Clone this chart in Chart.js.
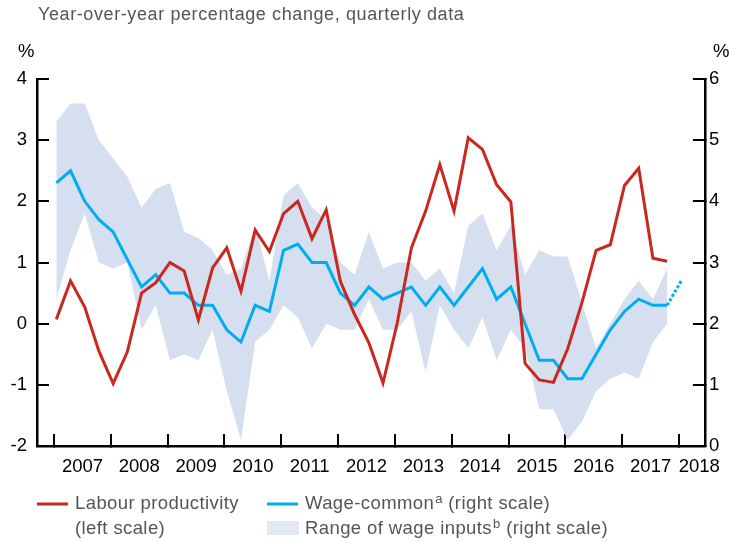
<!DOCTYPE html>
<html>
<head>
    <title>Labour productivity and wage-common</title>
    <script src="https://cdn.jsdelivr.net/npm/chart.js"></script>
    <style>
        body { margin: 0; background: #fff; }
        canvas { display: block; }
    </style>
</head>
<body>
    <canvas id="wage_chart" width="730" height="542"></canvas>
    <script>
        // quarterly observations, 2007Q1 - 2017Q4
        const quarters = [
            '2007Q1', '2007Q2', '2007Q3', '2007Q4',
            '2008Q1', '2008Q2', '2008Q3', '2008Q4',
            '2009Q1', '2009Q2', '2009Q3', '2009Q4',
            '2010Q1', '2010Q2', '2010Q3', '2010Q4',
            '2011Q1', '2011Q2', '2011Q3', '2011Q4',
            '2012Q1', '2012Q2', '2012Q3', '2012Q4',
            '2013Q1', '2013Q2', '2013Q3', '2013Q4',
            '2014Q1', '2014Q2', '2014Q3', '2014Q4',
            '2015Q1', '2015Q2', '2015Q3', '2015Q4',
            '2016Q1', '2016Q2', '2016Q3', '2016Q4',
            '2017Q1', '2017Q2', '2017Q3', '2017Q4'
        ];

        // left scale
        const labour_productivity = [
            0.07, 0.70, 0.27, -0.45,
            -0.98, -0.46, 0.50, 0.67,
            1.00, 0.86, 0.06, 0.91,
            1.24, 0.53, 1.53, 1.18,
            1.80, 2.00, 1.39, 1.86,
            0.69, 0.15, -0.31, -0.97,
            0.01, 1.24, 1.84, 2.60,
            1.84, 3.04, 2.85, 2.27,
            1.99, -0.65, -0.92, -0.96,
            -0.41, 0.34, 1.20, 1.29,
            2.26, 2.54, 1.07, 1.02
        ];

        // right scale
        const wage_common = [
            4.30, 4.50, 4.00, 3.70,
            3.50, 3.05, 2.60, 2.80,
            2.50, 2.50, 2.30, 2.30,
            1.90, 1.70, 2.30, 2.20,
            3.20, 3.30, 3.00, 3.00,
            2.50, 2.30, 2.60, 2.40,
            2.50, 2.60, 2.30, 2.60,
            2.30, 2.60, 2.90, 2.40,
            2.60, 2.00, 1.40, 1.40,
            1.10, 1.10, 1.50, 1.90,
            2.20, 2.40, 2.30, 2.30
        ];

        const projection_quarters = ['2017Q4', '2018Q1'];
        const wage_projection = [2.30, 2.70];

        const wage_range_high = [
            5.30, 5.60, 5.60, 5.00,
            4.70, 4.40, 3.90, 4.20,
            4.30, 3.50, 3.40, 3.20,
            2.80, 2.90, 3.60, 2.70,
            4.10, 4.30, 3.90, 3.70,
            3.00, 2.80, 3.50, 2.90,
            3.00, 3.00, 2.70, 2.90,
            2.50, 3.60, 3.80, 3.20,
            3.60, 2.80, 3.20, 3.10,
            3.10, 2.35, 1.60, 2.00,
            2.40, 2.70, 2.40, 2.90
        ];

        const wage_range_low = [
            2.40, 3.20, 3.80, 3.00,
            2.90, 3.00, 1.90, 2.30,
            1.40, 1.50, 1.40, 1.90,
            0.90, 0.10, 1.70, 1.90,
            2.30, 2.10, 1.60, 2.00,
            1.90, 1.90, 2.40, 1.90,
            1.90, 2.20, 1.20, 2.30,
            1.90, 1.60, 2.10, 1.40,
            1.90, 1.60, 0.60, 0.60,
            0.10, 0.40, 0.90, 1.10,
            1.20, 1.10, 1.70, 2.00
        ];

        const year_ticks = [2007, 2008, 2009, 2010, 2011, 2012, 2013, 2014, 2015, 2016, 2017, 2018];
        const left_ticks = [-2, -1, 0, 1, 2, 3, 4];
        const right_ticks = [0, 1, 2, 3, 4, 5, 6];

        const RED = '#c8281e';
        const BLUE = '#00aeef';
        const BAND = '#d5dff0';
        const BAND_KEY = '#e3e9f5';
        const GREY = '#555555';
        const FONT = "'Liberation Sans', Arial, sans-serif";
        const X_MIN = 2006.70;
        const X_MAX = 2018.455;

        function quarterToX(q) {
            return parseInt(q.slice(0, 4)) + (parseInt(q.slice(5)) - 1) / 4 + 0.04;
        }

        function toPoints(_labels, _values) {
            return _labels.map((q, i) => ({ x: quarterToX(q), y: _values[i] }));
        }

        function drawSup(c, x, y, _text, _sup, _rest) {
            c.font = '18.5px ' + FONT;
            c.fillText(_text, x, y);
            x += c.measureText(_text).width + 1;
            c.font = '13px ' + FONT;
            c.fillText(_sup, x, y - 5);
            x += c.measureText(_sup).width;
            c.font = '18.5px ' + FONT;
            c.fillText(_rest, x, y);
        }

        const chartText = {
            id: 'chartText',
            afterDraw(chart) {
                const c = chart.ctx;
                c.save();
                c.textBaseline = 'middle';
                c.textAlign = 'left';
                c.fillStyle = GREY;
                c.font = '18px ' + FONT;
                c.letterSpacing = '0.6px';
                c.fillText('Year-over-year percentage change, quarterly data', 38, 15);

                c.letterSpacing = '0px';
                c.fillStyle = '#000';
                c.font = '18.5px ' + FONT;
                c.fillText('%', 18, 52);
                c.fillText('%', 713, 52);

                // legend
                c.lineWidth = 3;
                c.strokeStyle = RED;
                c.beginPath(); c.moveTo(37, 504); c.lineTo(68, 504); c.stroke();
                c.strokeStyle = BLUE;
                c.beginPath(); c.moveTo(267, 504); c.lineTo(298, 504); c.stroke();
                c.fillStyle = BAND_KEY;
                c.fillRect(267, 521, 32, 14);

                c.fillStyle = GREY;
                c.letterSpacing = '0.4px';
                c.font = '18.5px ' + FONT;
                c.fillText('Labour productivity', 75, 504);
                c.fillText('(left scale)', 75, 529);
                drawSup(c, 305, 504, 'Wage-common', 'a', ' (right scale)');
                drawSup(c, 305, 529, 'Range of wage inputs', 'b', ' (right scale)');
                c.restore();
            }
        };

        const tick_font = { family: FONT, size: 18.5 };

        const ctx = document.getElementById('wage_chart');
        new Chart(ctx, {
            type: 'line',
            data: {
                datasets: [
                    {
                        label: 'Labour productivity (left scale)',
                        data: toPoints(quarters, labour_productivity),
                        yAxisID: 'y',
                        borderColor: RED,
                        borderWidth: 3,
                        pointRadius: 0,
                        fill: false,
                        order: 0
                    },
                    {
                        label: 'Wage-common (right scale)',
                        data: toPoints(quarters, wage_common),
                        yAxisID: 'y1',
                        borderColor: BLUE,
                        borderWidth: 3,
                        pointRadius: 0,
                        fill: false,
                        order: 1
                    },
                    {
                        label: 'Wage-common projection',
                        data: toPoints(projection_quarters, wage_projection),
                        yAxisID: 'y1',
                        borderColor: BLUE,
                        borderWidth: 3,
                        borderDash: [3, 2],
                        pointRadius: 0,
                        fill: false,
                        order: 1
                    },
                    {
                        label: 'Range high',
                        data: toPoints(quarters, wage_range_high),
                        yAxisID: 'y1',
                        borderColor: 'rgba(0,0,0,0)',
                        borderWidth: 0,
                        pointRadius: 0,
                        fill: false,
                        order: 2
                    },
                    {
                        label: 'Range of wage inputs (right scale)',
                        data: toPoints(quarters, wage_range_low),
                        yAxisID: 'y1',
                        borderColor: 'rgba(0,0,0,0)',
                        borderWidth: 0,
                        pointRadius: 0,
                        backgroundColor: BAND,
                        fill: '-1',
                        order: 2
                    }
                ]
            },
            options: {
                responsive: false,
                animation: false,
                layout: { padding: { top: 79, left: 0, right: 0, bottom: 0 } },
                plugins: {
                    legend: { display: false },
                    tooltip: { enabled: false }
                },
                scales: {
                    x: {
                        type: 'linear',
                        position: 'bottom',
                        min: X_MIN,
                        max: X_MAX,
                        afterBuildTicks: s => { s.ticks = year_ticks.map(v => ({ value: v })); },
                        ticks: { display: false },
                        grid: { drawOnChartArea: false, tickLength: -12, color: '#000', lineWidth: 2 },
                        border: { color: '#000', width: 2.5 },
                        afterFit: s => { s.height = 0; }
                    },
                    x2: {
                        type: 'linear',
                        position: 'bottom',
                        weight: 1,
                        min: X_MIN,
                        max: X_MAX,
                        afterBuildTicks: s => {
                            s.ticks = year_ticks.map(v => ({ value: Math.min(v + 0.5, X_MAX - 0.1) }));
                        },
                        ticks: {
                            autoSkip: false,
                            maxRotation: 0,
                            padding: 10,
                            color: '#000',
                            font: tick_font,
                            callback: v => String(Math.floor(v))
                        },
                        grid: { display: false, drawTicks: false },
                        border: { display: false },
                        afterFit: s => { s.height = 96; }
                    },
                    y: {
                        position: 'left',
                        min: -2,
                        max: 4,
                        afterBuildTicks: s => { s.ticks = left_ticks.map(v => ({ value: v })); },
                        ticks: { padding: 22, color: '#000', font: tick_font },
                        grid: { drawOnChartArea: false, tickLength: -12, color: '#000', lineWidth: 2 },
                        border: { color: '#000', width: 2.5 },
                        afterFit: s => { s.width = 37; }
                    },
                    y1: {
                        position: 'right',
                        min: 0,
                        max: 6,
                        afterBuildTicks: s => { s.ticks = right_ticks.map(v => ({ value: v })); },
                        ticks: { padding: 16, color: '#000', font: tick_font },
                        grid: { drawOnChartArea: false, tickLength: -12, color: '#000', lineWidth: 2 },
                        border: { color: '#000', width: 2.5 },
                        afterFit: s => { s.width = 21; }
                    }
                }
            },
            plugins: [chartText]
        });
    </script>
</body>
</html>
